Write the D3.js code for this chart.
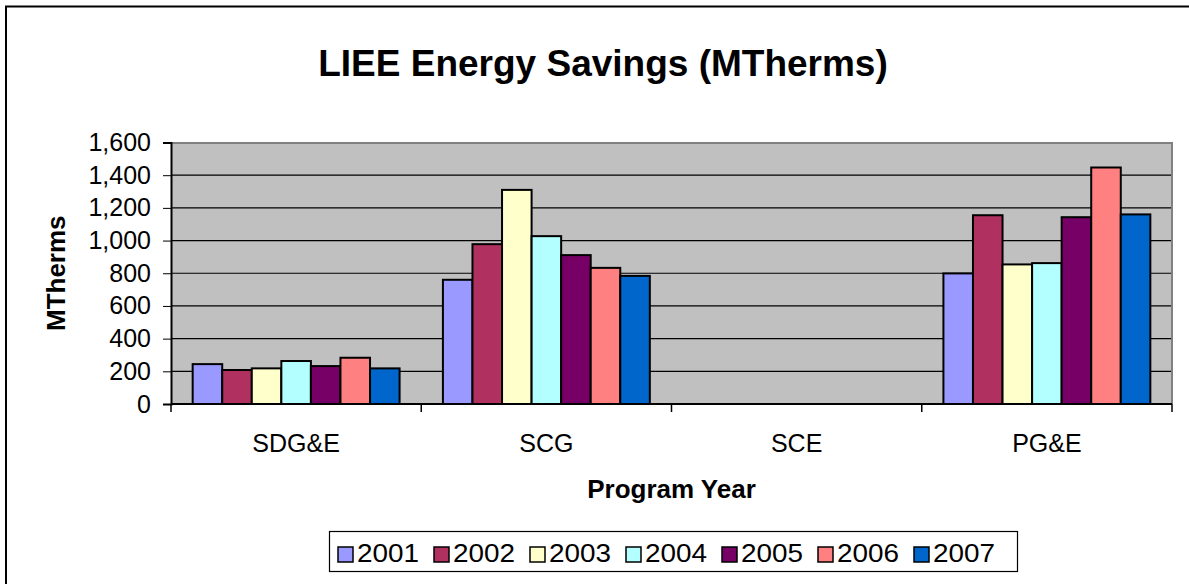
<!DOCTYPE html>
<html>
<head>
<meta charset="utf-8">
<script src="https://cdn.jsdelivr.net/npm/d3@7"></script>
<style>
  body { margin: 0; background: #fff; }
  text { font-family: Arial, "Liberation Sans", sans-serif; }
</style>
</head>
<body>
<svg id="drawing_region"></svg>
<script>
const categories = ['SDG&E', 'SCG', 'SCE', 'PG&E'];
const years = ['2001', '2002', '2003', '2004', '2005', '2006', '2007'];
const colors = ['#9999FF', '#B03060', '#FFFFCC', '#B3FFFF', '#770066', '#FF8080', '#0066CC'];

// one array per year, values in the order of categories
const v2001 = [244, 760, 0, 799];
const v2002 = [208, 978, 0, 1155];
const v2003 = [218, 1310, 0, 854];
const v2004 = [263, 1027, 0, 862];
const v2005 = [232, 911, 0, 1143];
const v2006 = [283, 833, 0, 1447];
const v2007 = [218, 784, 0, 1160];

const yTicks = [0, 200, 400, 600, 800, 1000, 1200, 1400, 1600];

const series = [v2001, v2002, v2003, v2004, v2005, v2006, v2007];

class BarChart {

    constructor( config, data ) {
        this.config = config;
        this.data = data;
        this.init();
    }

    init() {
        let self = this;

        self.svg = d3.select( self.config.parent )
            .attr('width', self.config.width)
            .attr('height', self.config.height);

        // outer chart frame (runs off the right and bottom of the picture)
        self.svg.append('rect')
            .attr('x', 6).attr('y', 6.5)
            .attr('width', 1300).attr('height', 700)
            .attr('fill', 'none')
            .attr('stroke', '#000')
            .attr('stroke-width', 2);

        self.chart = self.svg.append('g')
            .attr('transform', `translate(${self.config.margin.left}, ${self.config.margin.top})`);

        self.inner_width = self.config.width - self.config.margin.left - self.config.margin.right;
        self.inner_height = self.config.height - self.config.margin.top - self.config.margin.bottom;

        self.xscale = d3.scaleBand()
            .domain(categories)
            .range([0, self.inner_width]);

        self.x1scale = d3.scaleBand()
            .domain(years)
            .range([0, self.xscale.bandwidth()])
            .paddingInner(0)
            .paddingOuter(0.733);

        self.yscale = d3.scaleLinear()
            .domain([0, 1600])
            .range([self.inner_height, 0]);

        self.svg.append('text')
            .attr('x', 603)
            .attr('y', 76)
            .attr('text-anchor', 'middle')
            .attr('font-size', '37px')
            .attr('font-weight', 'bold')
            .text('LIEE Energy Savings (MTherms)');

        self.svg.append('text')
            .attr('transform', `translate(65, ${self.config.margin.top + self.inner_height/2}) rotate(-90)`)
            .attr('text-anchor', 'middle')
            .attr('font-size', '26px')
            .attr('font-weight', 'bold')
            .text('MTherms');

        self.svg.append('text')
            .attr('x', self.config.margin.left + self.inner_width/2)
            .attr('y', 498)
            .attr('text-anchor', 'middle')
            .attr('font-size', '26px')
            .attr('font-weight', 'bold')
            .text('Program Year');
    }

    render() {
        let self = this;

        self.chart.append('rect')
            .attr('width', self.inner_width)
            .attr('height', self.inner_height)
            .attr('fill', '#C0C0C0');

        self.chart.append('g')
            .selectAll('line')
            .data(yTicks.slice(1))
            .join('line')
            .attr('x1', 0).attr('x2', self.inner_width)
            .attr('y1', d => self.yscale(d)).attr('y2', d => self.yscale(d))
            .attr('stroke', '#000')
            .attr('stroke-width', 1.2);

        // top and right border of the plot area
        self.chart.append('path')
            .attr('d', `M0,0.5H${self.inner_width}V${self.inner_height}`)
            .attr('fill', 'none')
            .attr('stroke', '#808080')
            .attr('stroke-width', 2);

        const groups = self.chart.selectAll('.cat')
            .data(categories)
            .join('g')
            .attr('class', 'cat')
            .attr('transform', d => `translate(${self.xscale(d)},0)`);

        groups.selectAll('rect')
            .data((c, ci) => years.map((y, yi) => ({ year: y, value: series[yi][ci], color: colors[yi] })))
            .join('rect')
            .filter(d => d.value > 0)
            .attr('x', d => self.x1scale(d.year))
            .attr('y', d => self.yscale(d.value))
            .attr('width', self.x1scale.bandwidth())
            .attr('height', d => self.inner_height - self.yscale(d.value))
            .attr('fill', d => d.color)
            .attr('stroke', '#000')
            .attr('stroke-width', 2);

        const yaxis = d3.axisLeft(self.yscale)
            .tickValues(yTicks)
            .tickFormat(d3.format(','))
            .tickSize(8)
            .tickPadding(12);

        const yaxis_group = self.chart.append('g').call(yaxis);
        yaxis_group.select('.domain').attr('stroke-width', 2);
        yaxis_group.selectAll('text')
            .attr('font-size', '25px')
            .attr('fill', '#000')
            .attr('font-family', 'Arial, "Liberation Sans", sans-serif');

        const xaxis_group = self.chart.append('g')
            .attr('transform', `translate(0, ${self.inner_height})`);

        xaxis_group.append('line')
            .attr('x1', 0).attr('x2', self.inner_width)
            .attr('stroke', '#000').attr('stroke-width', 2);

        xaxis_group.selectAll('.tk')
            .data(self.xscale.domain().map(d => self.xscale(d)).concat([self.inner_width]))
            .join('line')
            .attr('class', 'tk')
            .attr('x1', d => d).attr('x2', d => d)
            .attr('y1', 0).attr('y2', 8)
            .attr('stroke', '#000').attr('stroke-width', 1.5);

        xaxis_group.selectAll('.lbl')
            .data(categories)
            .join('text')
            .attr('class', 'lbl')
            .attr('x', d => self.xscale(d) + self.xscale.bandwidth()/2)
            .attr('y', 48)
            .attr('text-anchor', 'middle')
            .attr('font-size', '25px')
            .text(d => d);

        // legend
        const legend = self.svg.append('g')
            .attr('transform', 'translate(329, 531)');

        legend.append('rect')
            .attr('x', 0.5).attr('y', 0.5)
            .attr('width', 688).attr('height', 40)
            .attr('fill', '#fff')
            .attr('stroke', '#000')
            .attr('stroke-width', 1.2);

        const items = legend.selectAll('.item')
            .data(years)
            .join('g')
            .attr('class', 'item')
            .attr('transform', (d, i) => `translate(${9 + i*96}, 0)`);

        items.append('rect')
            .attr('x', 0).attr('y', 16)
            .attr('width', 15).attr('height', 15)
            .attr('fill', (d, i) => colors[i])
            .attr('stroke', '#000')
            .attr('stroke-width', 1.5);

        items.append('text')
            .attr('x', 19)
            .attr('y', 31)
            .attr('font-size', '26px')
            .attr('textLength', 62)
            .attr('lengthAdjust', 'spacingAndGlyphs')
            .text(d => d);
    }
}

var config = {
    parent: '#drawing_region',
    width: 1189,
    height: 584,
    margin: {top: 142.5, right: 17, bottom: 180, left: 171}
};

const barChart = new BarChart( config, series );
barChart.render();
</script>
</body>
</html>
